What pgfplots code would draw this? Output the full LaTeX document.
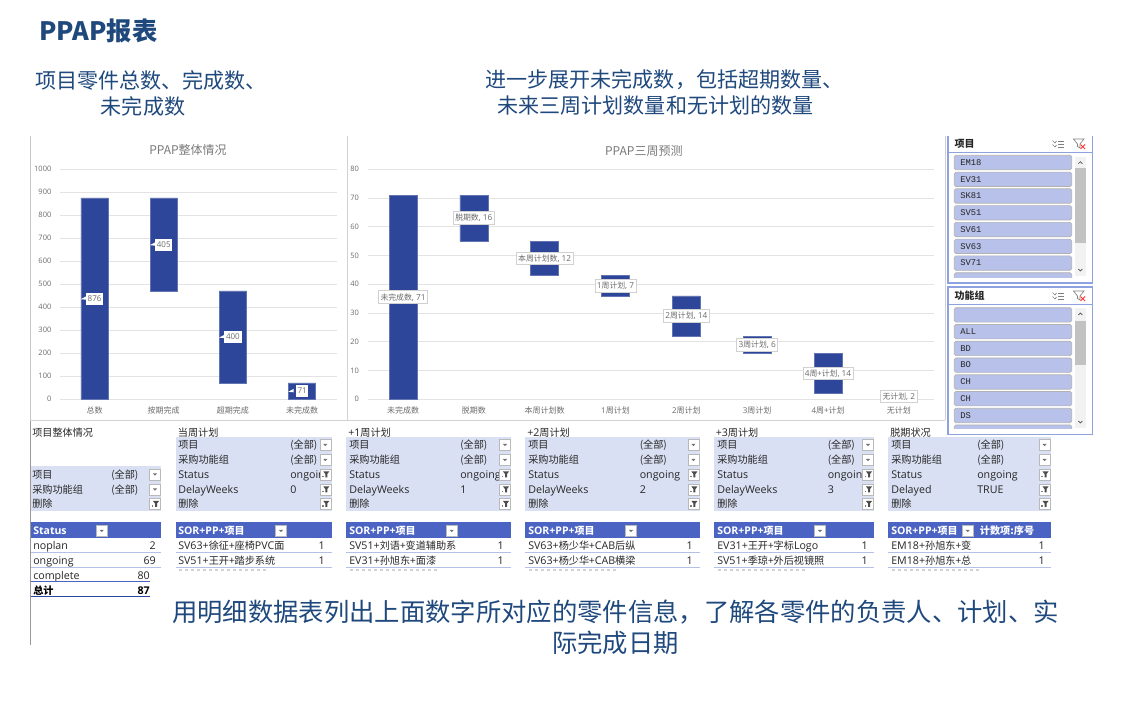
\documentclass[border=0pt]{standalone}
\usepackage{fontspec}
\usepackage{pgfplots}
\pgfplotsset{compat=1.18}
\setmainfont{Open Sans}
\newfontfamily\cjk{Noto Sans CJK SC}
\newfontfamily\cjkt[Scale=0.95]{Noto Sans CJK SC}
\newfontfamily\monof{Liberation Mono}
\newcommand\Z[1]{{\cjkt #1}}
\definecolor{barblue}{HTML}{2E4699}
\definecolor{hdr}{HTML}{4B64C4}
\definecolor{flt}{HTML}{DAE0F3}
\definecolor{rowl}{HTML}{B4C0E8}
\definecolor{head}{HTML}{1F497D}
\definecolor{slb}{HTML}{8FA2E0}
\definecolor{slf}{HTML}{B7C1EA}
\definecolor{gridc}{HTML}{E3E3E3}
\definecolor{txg}{HTML}{6B6B6B}
\definecolor{ttl}{HTML}{262626}
\newcommand\fs[1]{\fontsize{#1}{#1}\selectfont}
\newcommand\tx[3]{\node[anchor=base west,inner sep=0,text=ttl,font=\fs{8pt}] at (#1,713-#2-4.3) {#3};}
\newcommand\txr[3]{\node[anchor=base east,inner sep=0,text=ttl,font=\fs{8pt}] at (#1,713-#2-4.3) {#3};}
\newcommand\txw[3]{\node[anchor=base west,inner sep=0,text=white,font=\fs{7.9pt}\bfseries] at (#1,713-#2-4.3) {#3};}
\newcommand\ddbtn[2]{\filldraw[fill=white,draw=gray!55,line width=.4pt] (#1-5.5,713-#2-5.5) rectangle (#1+5.5,713-#2+5.5);
 \fill[gray!90!black] (#1-2,713-#2+1) -- (#1+2,713-#2+1) -- (#1,713-#2-1.2) -- cycle;}
\newcommand\fbtn[2]{\filldraw[fill=white,draw=gray!55,line width=.4pt] (#1-5.5,713-#2-5.5) rectangle (#1+5.5,713-#2+5.5);
 \fill[black!70] (#1-2,713-#2+3) -- (#1+4,713-#2+3) -- (#1+2,713-#2+.5) -- (#1+2,713-#2-3) -- (#1,713-#2-3) -- (#1,713-#2+.5) -- cycle;
 \fill[gray] (#1-3.5,713-#2-3) rectangle (#1-1.8,713-#2-1.5);}
\newcommand\filters[9]{%
 \tx{#1+2}{432}{#6}
 \fill[flt] (#1,713-437) rectangle (#2,713-511);
 \tx{#3}{444.7}{\Z{项目}} \tx{#4}{444.7}{\Z{(全部)}} \ddbtn{#5}{445}
 \tx{#3}{459.7}{\Z{采购功能组}} \tx{#4}{459.7}{\Z{(全部)}} \ddbtn{#5}{460}
 \tx{#3}{474.2}{Status}
 \begin{scope}\clip (#4-1,713-467) rectangle (#5-5.5,713-482); \tx{#4}{474.2}{ongoing}\end{scope}
 \fbtn{#5}{474.5}
 \tx{#3}{489}{#8} \tx{#4}{489}{#9} \fbtn{#5}{489.5}
 \tx{#3}{503.5}{\Z{删除}} \fbtn{#5}{504}
}
\newcommand\rows[7]{%
 \fill[hdr] (#1,713-522.3) rectangle (#2,713-537.7);
 \txw{#3}{530.5}{SOR+PP+\Z{项目}}
 \ddbtn{#4}{531}
 \tx{#3}{545.3}{#6} \txr{#5}{545.3}{1}
 \tx{#3}{560}{#7} \txr{#5}{560}{1}
 \draw[rowl,line width=.6pt] (#1,713-552.3) -- (#2,713-552.3);
 \draw[rowl,line width=.6pt] (#1,713-567) -- (#2,713-567);
 \draw[gray!35,line width=.8pt,dash pattern=on 2.5 off 2] (#3+1,713-570) -- (#3+88,713-570);
}
\newcommand\slbtn[3]{\filldraw[fill=slf,draw=gray!60,line width=.5pt,rounded corners=1.2pt] (954.3,713-#1) rectangle (1071.7,713-#1-14.4);
 \node[anchor=base west,inner sep=0,font=\fs{6.6pt}\monof,text=ttl] at (960,713-#1-10) {#2};}
\newcommand\slicons[1]{%
 \draw[gray,line width=.5pt] (1052.5,713-#1+3.5) -- (1055,713-#1+1) -- (1056.5,713-#1+3);
 \draw[gray,line width=.5pt] (1052.5,713-#1-.5) -- (1055,713-#1-3) -- (1056.5,713-#1-1);
 \draw[gray,line width=.5pt] (1058,713-#1+3) -- (1063.5,713-#1+3) (1058,713-#1) -- (1063.5,713-#1) (1058,713-#1-3) -- (1063.5,713-#1-3);
 \draw[gray,line width=.5pt] (1073.5,713-#1+5) -- (1084,713-#1+5) -- (1080,713-#1) -- (1080,713-#1-4) -- (1077.5,713-#1-2.5) -- (1077.5,713-#1) -- cycle;
 \draw[red!80,line width=.6pt] (1080.5,713-#1-.5) -- (1085,713-#1-5) (1085,713-#1-.5) -- (1080.5,713-#1-5);
}
\newcommand\scroll[4]{\fill[black!5] (1074.7,713-#1) rectangle (1086,713-#2);
 \fill[black!24] (1074.7,713-#3) rectangle (1086,713-#4);
 \draw[black!70,line width=.5pt] (1078.3,713-#1-7) -- (1080.3,713-#1-5) -- (1082.3,713-#1-7);
 \draw[black!70,line width=.5pt] (1078.3,713-#2+7) -- (1080.3,713-#2+5) -- (1082.3,713-#2+7);}
\newcommand\dl[2]{\node[fill=white,draw=black!18,line width=.5pt,inner xsep=1.4pt,inner ysep=0,minimum height=9.6pt,font=\fs{6.2pt},text=txg] at (#1) {#2};}
\newcommand\cb[3]{\fill[white] (#1) ++(-10.3pt,-0.5pt) -- ++(4pt,2.2pt) -- ++(0,-2.6pt) -- cycle;
 \node[fill=white,inner sep=0,minimum height=9pt,minimum width=#2,font=\fs{6pt},text=txg] at (#1) {#3};}
\pgfplotsset{wf/.style={
 scale only axis, ybar stacked, clip=false,
 axis line style={draw=gridc}, axis x line*=bottom, axis y line=left, y axis line style={draw=none},
 ymajorgrids, grid style={draw=gridc,line width=.6pt},
 major tick length=0pt, xtick=data,
 tick label style={font=\fs{6pt},text=txg},
 /pgf/number format/assume math mode=true, /pgf/number format/1000 sep={},
 yticklabel style={xshift=-3pt,font=\fs{5.6pt}}, xticklabel style={yshift=-1.8pt},
 ymin=0}}
\begin{document}
\begin{tikzpicture}[x=.75pt,y=.75pt]
\path[use as bounding box,fill=white] (0,0) rectangle (1121,713);

% headings
\node[anchor=base west,inner sep=0,text=head,font=\fs{19pt}\cjk\bfseries] at (39,713-40.5) {PPAP报表};
\begin{scope}[every node/.style={inner sep=0,anchor=center,text=head,font=\fs{15.8pt}\cjk}]
\node at (151,713-80) {项目零件总数、完成数、};
\node at (143,713-106) {未完成数};
\node at (664.5,713-80) {进一步展开未完成数，包括超期数量、};
\node at (655.5,713-106) {未来三周计划数量和无计划的数量};
\end{scope}
\begin{scope}[every node/.style={inner sep=0,anchor=center,text=head,font=\fs{19pt}\cjk}]
\node at (615.5,713-612) {用明细数据表列出上面数字所对应的零件信息，了解各零件的负责人、计划、实};
\node at (615.5,713-643) {际完成日期};
\end{scope}

% frames of the two charts
\draw[black!22,line width=.7pt] (30,713-136) -- (30,713-420.5);
\draw[black!40,line width=.7pt] (30,713-420.5) -- (30,713-645);
\draw[black!18,line width=.7pt] (347.3,713-136) -- (347.3,713-420.5);
\draw[black!18,line width=.7pt] (30,713-420.5) -- (945,713-420.5);
\draw[black!18,line width=.7pt] (945,713-136) -- (945,713-420.5);

% chart 1
\begin{axis}[wf, at={(45pt,235.275pt)}, anchor=south west, width=207.5pt, height=172.5pt,
  bar width=20.4pt, xmin=-.5, xmax=3.5, ymax=1000, ytick distance=100,
  xticklabels={{\cjk 总数},{\cjk 按期完成},{\cjk 超期完成},{\cjk 未完成数}}]
\addplot[draw=none,fill=none] coordinates {(0,0) (1,471) (2,71) (3,0)};
\addplot[fill=barblue,draw=barblue!75!white,line width=.4pt] coordinates {(0,876) (1,405) (2,400) (3,71)};
\node[anchor=center,font=\fs{9pt}\cjk,text=black!52] at (axis cs:1.35,1084) {PPAP整体情况};
\coordinate (a0) at (axis cs:0,438);
\coordinate (a1) at (axis cs:1,673);
\coordinate (a2) at (axis cs:2,271);
\coordinate (a3) at (axis cs:3,35.5);
\end{axis}
\cb{a0}{13pt}{876}
\cb{a1}{13pt}{405}
\cb{a2}{13pt}{400}
\cb{a3}{9.5pt}{71}

% chart 2
\begin{axis}[wf, at={(275.7pt,235.275pt)}, anchor=south west, width=425pt, height=172.5pt,
  bar width=21pt, xmin=-.5, xmax=7.5, ymax=80, ytick distance=10,
  xticklabels={{\cjk 未完成数},{\cjk 脱期数},{\cjk 本周计划数},{1\cjk 周计划},{2\cjk 周计划},{3\cjk 周计划},{4\cjk 周+计划},{\cjk 无计划}}]
\addplot[draw=none,fill=none] coordinates {(0,0) (1,55) (2,43) (3,36) (4,22) (5,16) (6,2) (7,0)};
\addplot[fill=barblue,draw=barblue!75!white,line width=.4pt] coordinates {(0,71) (1,16) (2,12) (3,7) (4,14) (5,6) (6,14) (7,2)};
\node[anchor=center,font=\fs{9pt}\cjk,text=black!52] at (axis cs:3.40,86.4) {PPAP三周预测};
\coordinate (b0) at (axis cs:0,35.5);
\coordinate (b1) at (axis cs:1,63);
\coordinate (b2) at (axis cs:2,49);
\coordinate (b3) at (axis cs:3,39.5);
\coordinate (b4) at (axis cs:4,29);
\coordinate (b5) at (axis cs:5,19);
\coordinate (b6) at (axis cs:6,9);
\coordinate (b7) at (axis cs:7,1);
\end{axis}
\dl{b0}{\Z{未完成数}, 71}
\dl{b1}{\Z{脱期数}, 16}
\dl{b2}{\Z{本周计划数}, 12}
\dl{b3}{1\Z{周计划}, 7}
\dl{b4}{2\Z{周计划}, 14}
\dl{b5}{3\Z{周计划}, 6}
\dl{b6}{4\Z{周+计划}, 14}
\dl{b7}{\Z{无计划}, 2}

% slicer 1
\draw[slb,line width=.8pt] (948,713-136) -- (948,713-283) -- (1092.3,713-283) -- (1092.3,713-136);
\draw[slb,line width=.7pt] (948,713-152.3) -- (1092.3,713-152.3);
\node[anchor=base west,inner sep=0,font=\fs{7.5pt}\cjk\bfseries,text=ttl] at (954.3,713-147.3) {项目};
\slicons{144}
\scroll{156.7}{276}{168.3}{243.3}
\slbtn{155.3}{EM18}{} \slbtn{172.1}{EV31}{} \slbtn{188.8}{SK81}{} \slbtn{205.6}{SV51}{}
\slbtn{222.4}{SV61}{} \slbtn{239.1}{SV63}{} \slbtn{255.9}{SV71}{}
\begin{scope}\clip (950,713-270) rectangle (1073,713-277.5); \slbtn{272.7}{}{} \end{scope}

% slicer 2
\draw[slb,line width=.8pt] (948,713-287) rectangle (1092.3,713-434.3);
\draw[slb,line width=.7pt] (948,713-304.3) -- (1092.3,713-304.3);
\node[anchor=base west,inner sep=0,font=\fs{7.5pt}\cjk\bfseries,text=ttl] at (954.3,713-299.3) {功能组};
\slicons{296}
\scroll{308}{428}{320.7}{364.7}
\slbtn{307.7}{}{} \slbtn{324.5}{ALL}{} \slbtn{341.2}{BD}{} \slbtn{358}{BO}{}
\slbtn{374.8}{CH}{} \slbtn{391.5}{CH}{} \slbtn{408.3}{DS}{}
\begin{scope}\clip (950,713-422) rectangle (1073,713-428.5); \slbtn{425}{}{} \end{scope}

% table A
\tx{32}{432}{\Z{项目整体情况}}
\fill[flt] (30.7,713-466) rectangle (161,713-511);
\tx{32}{474.2}{\Z{项目}} \tx{111}{474.2}{\Z{(全部)}} \ddbtn{155}{474.5}
\tx{32}{489}{\Z{采购功能组}} \tx{111}{489}{\Z{(全部)}} \ddbtn{155}{489.5}
\tx{32}{503.5}{\Z{删除}} \fbtn{155}{504}
\fill[hdr] (30.7,713-522.3) rectangle (161,713-537.7);
\txw{33}{530.5}{Status} \ddbtn{101.7}{531}
\tx{33}{545.3}{noplan} \txr{156}{545.3}{2}
\tx{33}{560}{ongoing} \txr{156}{560}{69}
\tx{33}{575}{complete} \txr{150}{575}{80}
\node[anchor=base west,inner sep=0,text=black,font=\fs{7.6pt}\cjk\bfseries] at (33,713-594.3) {总计};
\node[anchor=base east,inner sep=0,text=black,font=\fs{8pt}\bfseries] at (150,713-594.3) {87};
\draw[rowl,line width=.6pt] (30.7,713-552.3) -- (161,713-552.3);
\draw[rowl,line width=.6pt] (30.7,713-567) -- (161,713-567);
\draw[hdr,line width=.7pt] (30.7,713-581.7) -- (150,713-581.7);
\draw[barblue,line width=1pt] (30.7,713-596.7) -- (150,713-596.7);

% tables B to F
\filters{175.7}{331.7}{178}{290}{325.3}{\Z{当周计划}}{}{DelayWeeks}{0}
\rows{175.7}{331.7}{178}{281}{325}{SV63+\Z{徐征+座椅}PVC\Z{面}}{SV51+\Z{王开+踏步系统}}
\filters{346}{511}{349}{460}{505}{+1\Z{周计划}}{}{DelayWeeks}{1}
\rows{346}{511}{349}{451.7}{504}{SV51+\Z{刘语+变道辅助系}}{EV31+\Z{孙旭东+面漆}}
\filters{525}{700}{528}{639.5}{693.4}{+2\Z{周计划}}{}{DelayWeeks}{2}
\rows{525}{700}{528}{631}{693}{SV63+\Z{杨少华+}CAB\Z{后纵}}{SV63+\Z{杨少华+}CAB\Z{横梁}}
\filters{713.5}{874}{717}{827.5}{868}{+3\Z{周计划}}{}{DelayWeeks}{3}
\rows{713.5}{874}{717}{820}{868}{EV31+\Z{王开+字标}Logo}{SV51+\Z{季琼+外后视镜照}}
\filters{888}{1051}{891}{977}{1044.5}{\Z{脱期状况}}{}{Delayed}{TRUE}
\rows{888}{1051}{891}{967.7}{1045}{EM18+\Z{孙旭东+变}}{EM18+\Z{孙旭东+总}}
\node[anchor=base west,inner sep=0,text=white,font=\fs{7.6pt}\cjk\bfseries] at (979.7,713-534.8) {计数项:序号};
\end{tikzpicture}
\end{document}
